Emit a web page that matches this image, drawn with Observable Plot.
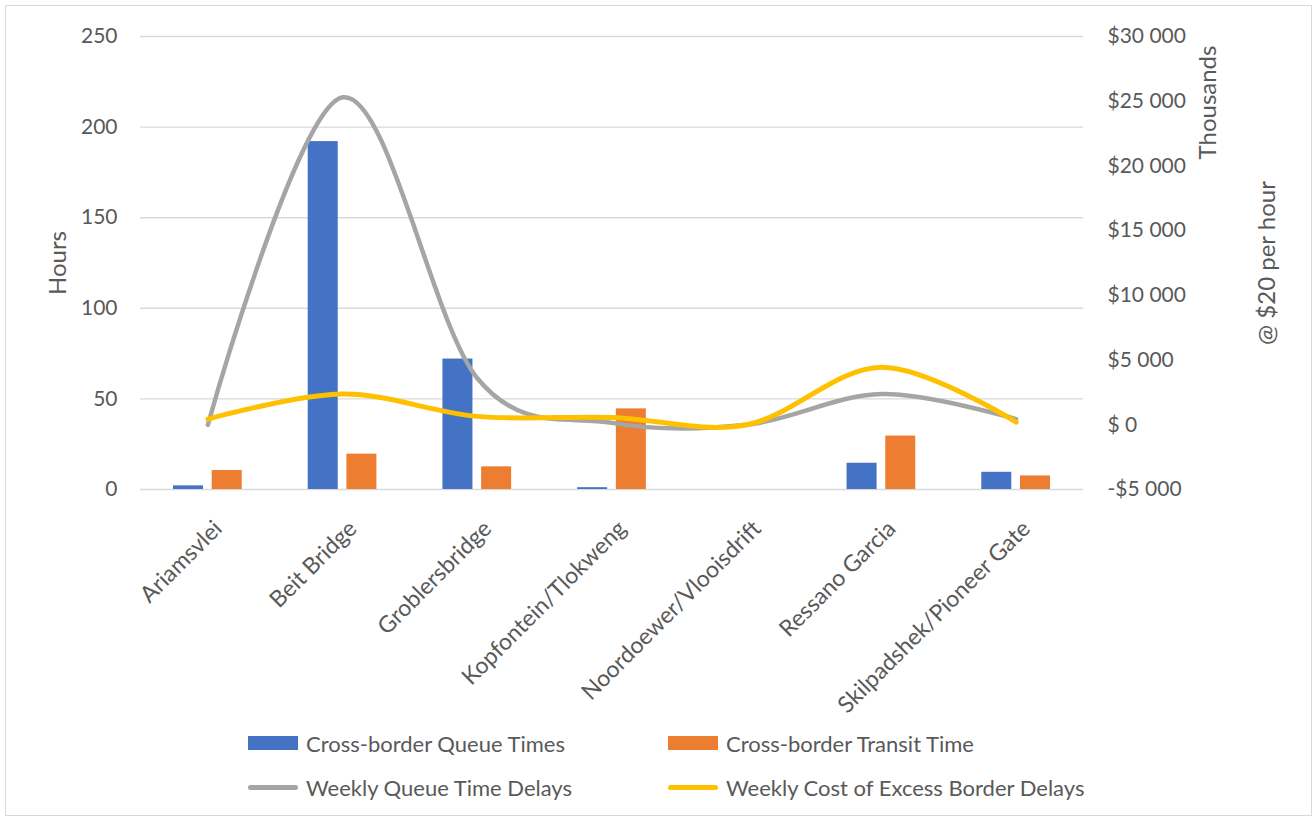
<!DOCTYPE html>
<html>
<head>
<meta charset="utf-8">
<script src="https://cdn.jsdelivr.net/npm/d3@7"></script>
<script src="https://cdn.jsdelivr.net/npm/@observablehq/plot@0.6"></script>
<style>
  html, body { margin: 0; padding: 0; background: #fff; }
  body { width: 1316px; height: 820px; position: relative; overflow: hidden; font-family: Lato, "Open Sans", sans-serif; }
  #frame { position: absolute; left: 5px; top: 5px; width: 1307px; height: 811px; border: 1px solid #d9d9d9; box-sizing: border-box; }
  #chart { position: absolute; left: 0; top: 0; }
  .legend { position: absolute; left: 0; top: 0; width: 1316px; color: #595959; font-size: 22px; }
  .item { position: absolute; display: flex; align-items: center; white-space: nowrap; }
  .sw { width: 50px; margin-right: 8px; }
</style>
</head>
<body>
<div id="frame"></div>
<div id="chart"></div>
<div class="legend" id="legend"></div>
<script>
const categories = ["Ariamsvlei", "Beit Bridge", "Groblersbridge", "Kopfontein/Tlokweng", "Noordoewer/Vlooisdrift", "Ressano Garcia", "Skilpadshek/Pioneer Gate"];
const queueTimes = [2, 192, 72, 1, 0, 14.5, 9.5];
const transitTime = [10.5, 19.5, 12.5, 44.5, 0, 29.5, 7.5];
const weeklyQueueDelays = [0, 25300, 3600, 150, 0, 2370, 440];
const weeklyCost = [440, 2370, 650, 570, 0, 4450, 210];
const hourTicks = [0, 50, 100, 150, 200, 250];
const dollarTicks = [-5000, 0, 5000, 10000, 15000, 20000, 25000, 30000];
const seriesNames = ["Cross-border Queue Times", "Cross-border Transit Time", "Weekly Queue Time Delays", "Weekly Cost of Excess Border Delays"];
const colors = ["#4472C4", "#ED7D31", "#A5A5A5", "#FFC000"];

const rows = categories.map((c, i) => ({cat: c, q: queueTimes[i], t: transitTime[i], wq: weeklyQueueDelays[i], wc: weeklyCost[i]}));
// secondary axis mapped onto primary range
const toH = d3.scaleLinear().domain([-5000, 30000]).range([0, 250]);
const fmtDollar = v => {
  if (v === 0) return "$ 0";
  const s = Math.abs(v).toString().replace(/\B(?=(\d{3})+(?!\d))/g, " ");
  return (v < 0 ? "-" : "") + "$" + s;
};
const txt = "#595959";

const chart = Plot.plot({
  width: 1316,
  height: 720,
  marginTop: 36,
  marginLeft: 140,
  marginRight: 233,
  marginBottom: 231,
  style: {fontFamily: "Lato, 'Open Sans', sans-serif", background: "transparent"},
  x: {domain: categories, padding: 0, round: false, axis: null},
  y: {domain: [0, 250], axis: null},
  marks: [
    Plot.gridY(hourTicks, {stroke: "#d9d9d9", strokeOpacity: 1, strokeWidth: 1.4}),
    Plot.axisY(hourTicks, {anchor: "left", tickSize: 0, tickPadding: 23, fontSize: 21, fill: txt, label: null}),
    Plot.axisY(dollarTicks.map(toH), {anchor: "right", tickSize: 0, tickPadding: 24, fontSize: 21, fill: txt, label: null,
      tickFormat: d => fmtDollar(Math.round(toH.invert(d)))}),
    Plot.barY(rows, {x: "cat", y: "q", fill: colors[0], insetLeft: 33, insetRight: 71.7}),
    Plot.barY(rows, {x: "cat", y: "t", fill: colors[1], insetLeft: 71.7, insetRight: 33}),
    Plot.line(rows, {x: "cat", y: d => toH(d.wq), stroke: colors[2], strokeWidth: 4.5, curve: "catmull-rom", tension: 0, strokeLinecap: "round"}),
    Plot.line(rows, {x: "cat", y: d => toH(d.wc), stroke: colors[3], strokeWidth: 5, curve: "catmull-rom", tension: 0, strokeLinecap: "round"}),
    Plot.text(categories, {x: d => d, frameAnchor: "bottom", dx: 4, dy: 29, rotate: -45, textAnchor: "end", lineAnchor: "top", fontSize: 23, fill: txt}),
    Plot.text(["Hours"], {frameAnchor: "left", dx: -82, rotate: -90, textAnchor: "middle", lineAnchor: "middle", fontSize: 24, fill: txt}),
    Plot.text(["Thousands"], {frameAnchor: "top-right", dx: 125, dy: 66, rotate: -90, textAnchor: "middle", lineAnchor: "middle", fontSize: 24, fill: txt}),
    Plot.text(["@ $20 per hour"], {frameAnchor: "right", dx: 184, rotate: -90, textAnchor: "middle", lineAnchor: "middle", fontSize: 24, fill: txt})
  ]
});
document.getElementById("chart").appendChild(chart);

const legend = document.getElementById("legend");
const pos = [[248, 743], [668, 743], [248, 787], [668, 787]];
seriesNames.forEach((name, i) => {
  const it = document.createElement("div");
  it.className = "item";
  it.style.left = pos[i][0] + "px";
  it.style.top = (pos[i][1] - 14) + "px";
  it.style.height = "28px";
  const sw = document.createElement("div");
  sw.className = "sw";
  if (i < 2) { sw.style.height = "14px"; sw.style.background = colors[i]; }
  else { sw.style.height = "5px"; sw.style.borderRadius = "3px"; sw.style.background = colors[i]; }
  const lab = document.createElement("span");
  lab.textContent = name;
  it.appendChild(sw); it.appendChild(lab);
  legend.appendChild(it);
});
</script>
</body>
</html>
